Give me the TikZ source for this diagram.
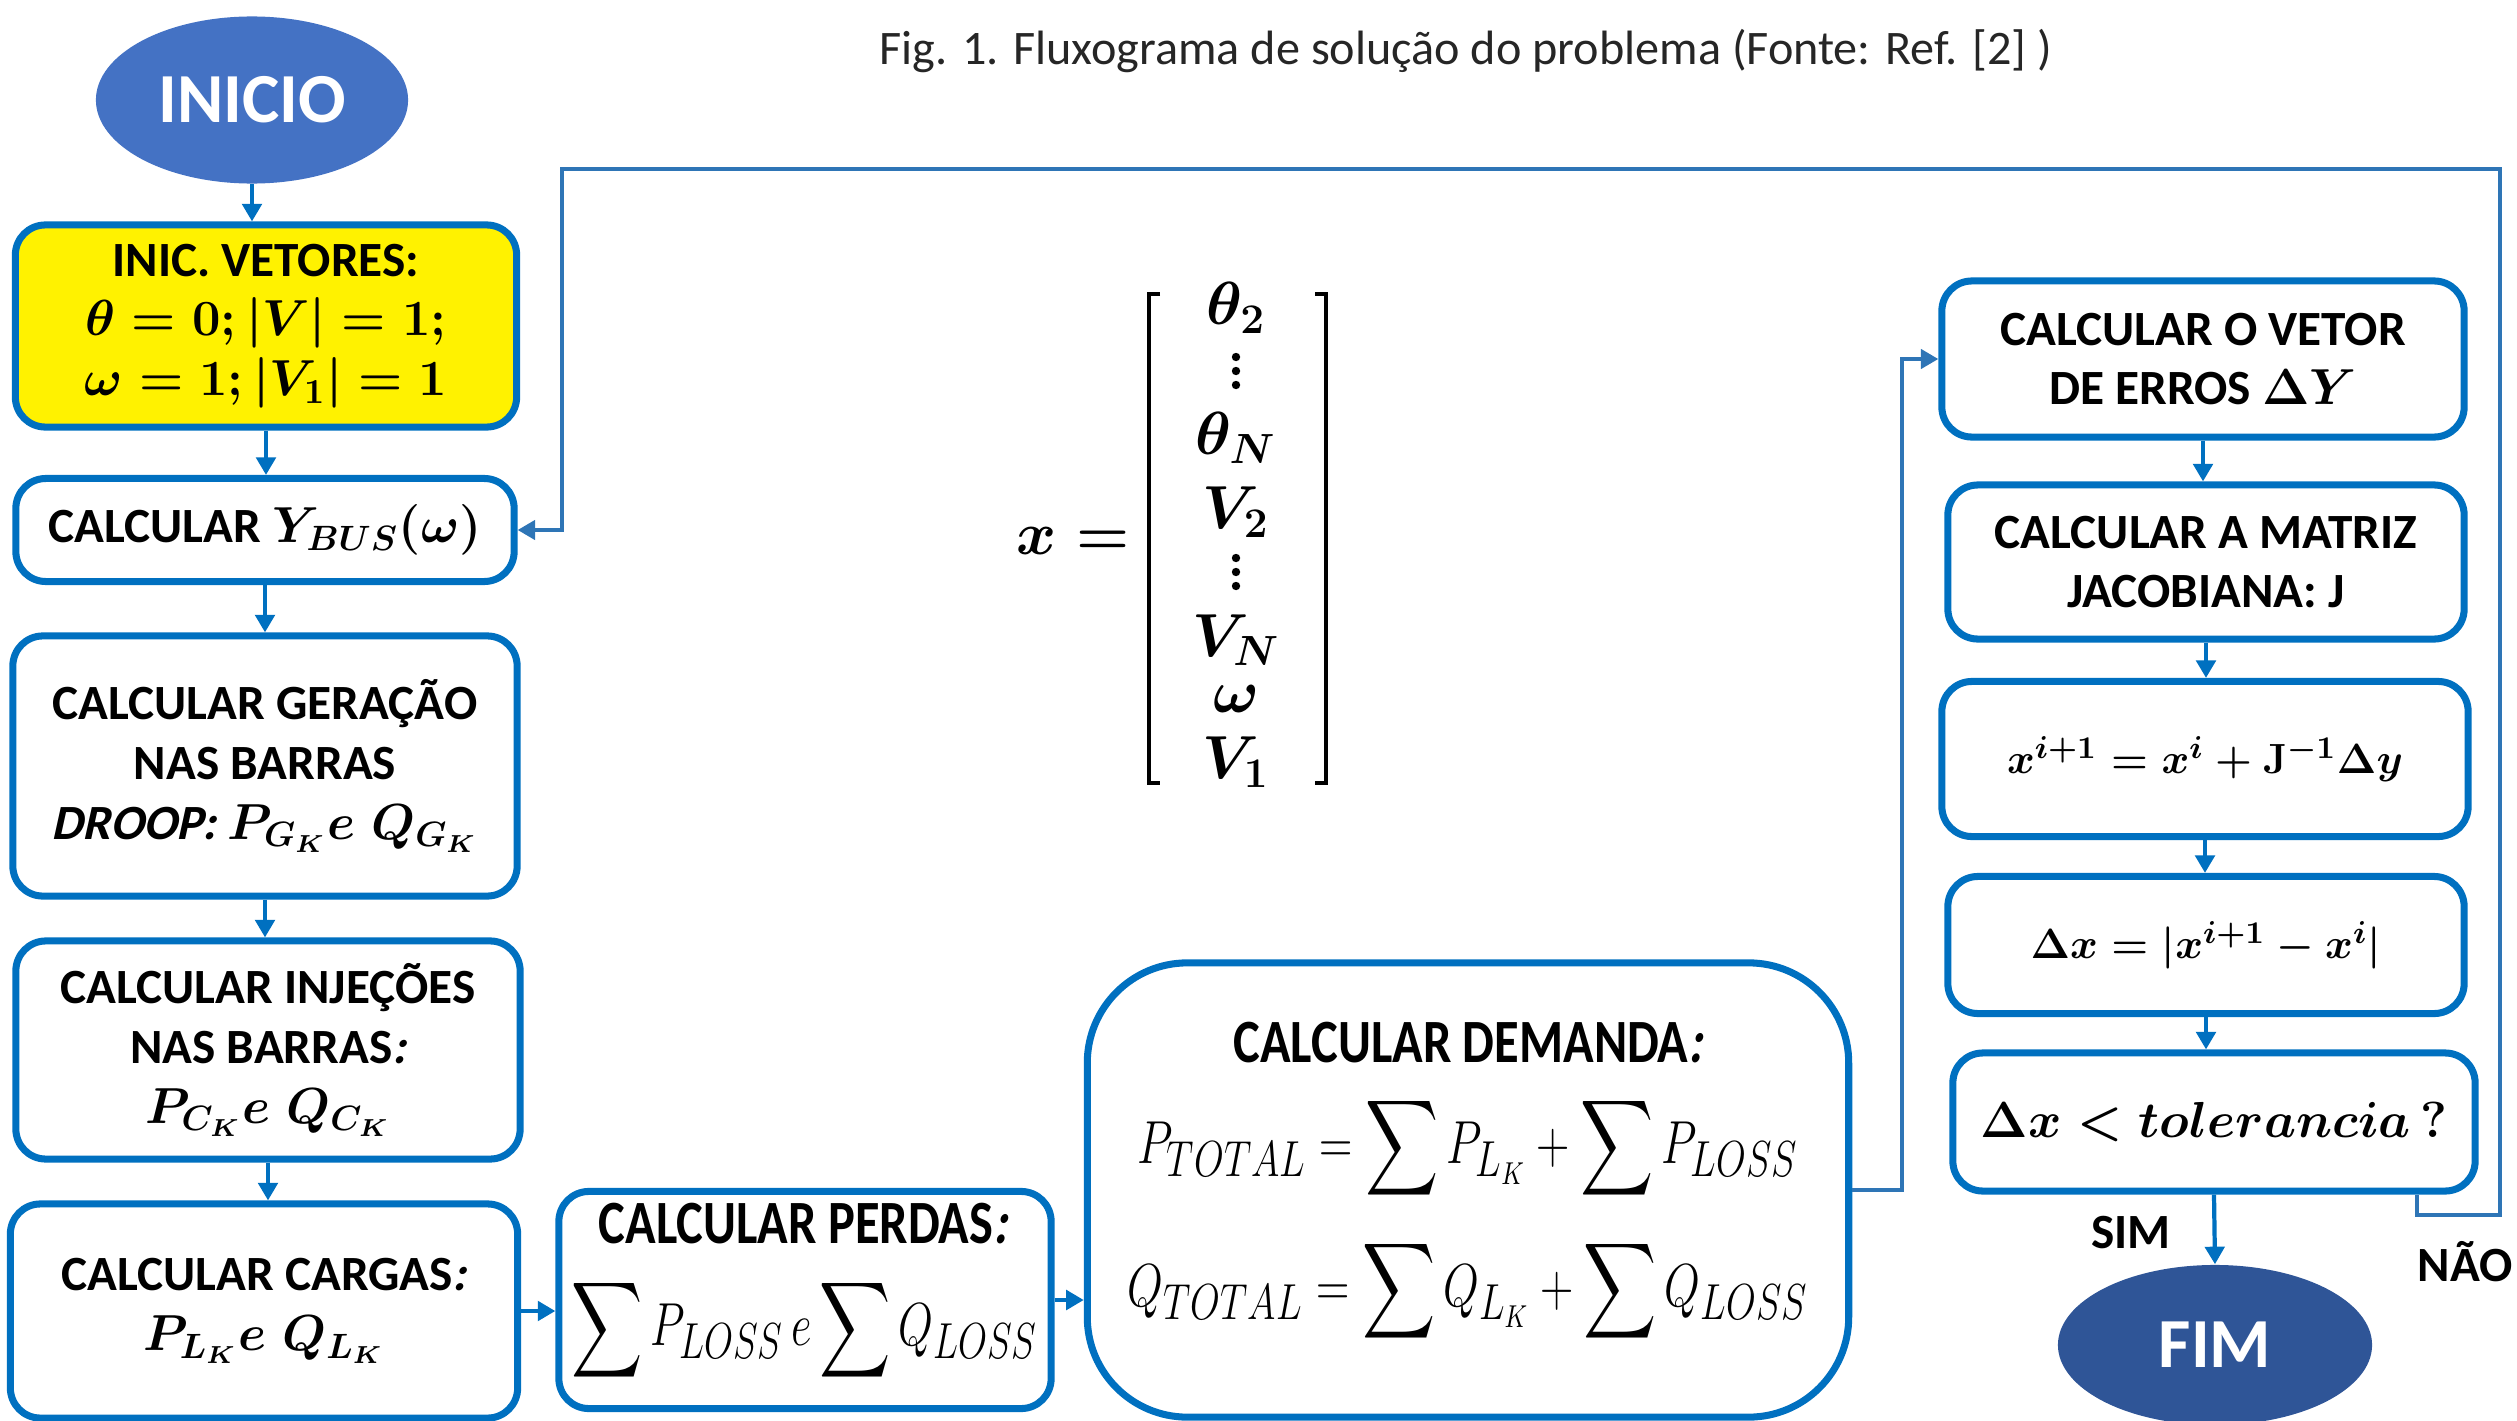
\documentclass[tikz,border=0pt]{standalone}
\usepackage{fontspec}
\setmainfont{Carlito}
\newfontfamily\slfont{Carlito}[FakeSlant=0.22]
\usepackage{amsmath,amssymb}
\usepackage{graphicx}
\usetikzlibrary{shapes.geometric,arrows.meta}
\definecolor{bx}{HTML}{0070C0}
\definecolor{fb}{HTML}{2E75B6}
\definecolor{ini}{HTML}{4472C4}
\definecolor{fimc}{HTML}{2F5597}
\definecolor{ttl}{HTML}{262626}
\newcommand\myCond[1]{\scalebox{0.82}[1]{#1}}
\newcommand\myCondM[1]{\scalebox{0.74}[1]{#1}}
\newcommand\bm[1]{{\fontsize{14}{17}\selectfont\boldmath$#1$}}
\newcommand\slt[1]{{\slfont\bfseries #1}}
\tikzset{
  box/.style={draw=bx, line width=2pt, rounded corners=0.3cm, fill=white, align=center, inner sep=0pt, font=\fontsize{14}{17}\selectfont\bfseries},
  mbox/.style={box, font=\fontsize{13.2}{18}\selectfont\boldmath},
  term/.style={ellipse, draw=none, text=white, inner sep=0pt, font=\fontsize{20}{24}\selectfont\bfseries},
  arr/.style={bx, line width=1.2pt, -{Triangle[width=5.5pt,length=5pt]}},
  fbarr/.style={fb, line width=1.1pt, -{Triangle[width=5.5pt,length=5pt]}},
  ctitle/.style={inner sep=0pt, font=\fontsize{17.5}{20}\selectfont\bfseries},
  cmath/.style={inner sep=0pt, font=\fontsize{19}{22}\selectfont},
  vecent/.style={inner sep=0pt, anchor=base, font=\fontsize{18}{20}\selectfont\boldmath},
  vdot/.style={inner sep=0pt, font=\fontsize{18}{20}\selectfont\boldmath},
  dotc/.style={fill=black, draw=none},
  lbl/.style={inner sep=0pt, font=\fontsize{14}{17}\selectfont\bfseries},
}
\begin{document}
\begin{tikzpicture}[x=0.01cm,y=-0.01cm]
\useasboundingbox (0,0) rectangle (2517,1421);
% title
\node[font=\fontsize{13.7}{16}\selectfont, text=ttl, inner sep=0pt] (title) at (1466,51) {Fig. 1. Fluxograma de solução do problema (Fonte: Ref. [2] )};
% terminals
\node[term, fill=ini, minimum width=3.12cm, minimum height=1.67cm] (ini) at (252,100) {INICIO};
\node[term, fill=fimc, minimum width=3.14cm, minimum height=1.60cm] (fim) at (2215,1345) {FIM};
% left column
\node[box, fill=yellow, minimum width=5.01cm, minimum height=2.02cm] (vet) at (266,326)
  {INIC. VETORES:\\ \bm{\theta=0;|V|=1;}\\ \bm{\omega=1;|V_1|=1}};
\node[box, minimum width=4.98cm, minimum height=1.03cm] (ybus) at (265,530)
  {CALCULAR \bm{Y_{BUS}(\omega)}};
\node[box, minimum width=5.04cm, minimum height=2.60cm] (gera) at (265,766)
  {CALCULAR GERAÇÃO\\ NAS BARRAS\\ \slt{DROOP:} \bm{P_{G_K}e\;Q_{G_K}}};
\node[box, minimum width=5.04cm, minimum height=2.18cm] (inje) at (268,1050)
  {CALCULAR INJEÇÕES\\ NAS BARRAS\slt{:}\\ \bm{P_{C_K}e\;Q_{C_K}}};
\node[box, minimum width=5.07cm, minimum height=2.14cm] (carg) at (264,1311)
  {CALCULAR CARGAS\slt{:}\\ \bm{P_{L_K}e\;Q_{L_K}}};
% perdas
\node[box, minimum width=4.92cm, minimum height=2.17cm] (perd) at (805,1300) {};
\node[ctitle] (perdt) at (803,1224) {\myCond{CALCULAR PERDAS\slt{:}}};
\node[cmath] (perdm) at (805,1330) {\myCondM{$\displaystyle\sum P_{LOSS}\,e\sum Q_{LOSS}$}};
% demanda
\node[box, rounded corners=1cm, minimum width=7.61cm, minimum height=4.54cm] (dem) at (1468,1190) {};
\node[ctitle] (demt) at (1468,1043) {\myCond{CALCULAR DEMANDA\slt{:}}};
\node[cmath] (deq1) at (1468,1148) {\scalebox{0.76}[1]{$\displaystyle P_{TOTAL}=\sum P_{L_K}+\sum P_{LOSS}$}};
\node[cmath] (deq2) at (1468,1291) {\scalebox{0.76}[1]{$\displaystyle Q_{TOTAL}=\sum Q_{L_K}+\sum Q_{LOSS}$}};
% right column
\node[box, minimum width=5.22cm, minimum height=1.56cm] (vetor) at (2203,359)
  {CALCULAR O VETOR\\ DE ERROS \bm{\Delta Y}};
\node[box, minimum width=5.16cm, minimum height=1.54cm] (matr) at (2206,562)
  {CALCULAR A MATRIZ\\ JACOBIANA: J};
\node[mbox, minimum width=5.26cm, minimum height=1.55cm] (xupd) at (2205,759)
  {$x^{i+1}=x^{i}+\mathbf{J}^{-1}\Delta y$};
\node[mbox, minimum width=5.16cm, minimum height=1.37cm] (dx) at (2206,945)
  {$\Delta x=\lvert x^{i+1}-x^{i}\rvert$};
\node[mbox, font=\fontsize{14}{18}\selectfont\boldmath, minimum width=5.22cm, minimum height=1.38cm] (tol) at (2214,1122)
  {$\Delta x<tolerancia\,\mathrm{?}$};
% vector x
\node[vdot] (xeq) at (1073,541) {$x=$};
\draw[line width=1.3pt] (1160,294) -- (1149,294) -- (1149,783) -- (1160,783);
\draw[line width=1.3pt] (1315,294) -- (1326,294) -- (1326,783) -- (1315,783);
\node[vecent] (e1) at (1236,324) {$\theta_2$};
\fill[dotc] (1236,357) circle (4.2) (1236,371) circle (4.2) (1236,385) circle (4.2);
\node[vecent] (e3) at (1236,454) {$\theta_N$};
\node[vecent] (e4) at (1236,528) {$V_2$};
\fill[dotc] (1236,558) circle (4.2) (1236,572) circle (4.2) (1236,586) circle (4.2);
\node[vecent] (e6) at (1236,656) {$V_N$};
\node[vecent] (e7) at (1236,712) {$\omega$};
\node[vecent] (e8) at (1236,778) {$V_1$};
% arrows left column
\draw[arr] (ini.south) -- (ini.south |- vet.north);
\draw[arr] (vet.south) -- (vet.south |- ybus.north);
\draw[arr] (ybus.south) -- (ybus.south |- gera.north);
\draw[arr] (gera.south) -- (gera.south |- inje.north);
\draw[arr] (inje.south) -- (inje.south |- carg.north);
\draw[arr] (carg.east) -- (carg.east -| perd.west);
\draw[arr] (perd.east) -- (perd.east -| dem.west);
\draw[fbarr] (dem.east) -- ++(50,0) |- (vetor.west);
% right column
\draw[arr] (vetor.south) -- (vetor.south |- matr.north);
\draw[arr] (matr.south) -- (matr.south |- xupd.north);
\draw[arr] (xupd.south) -- (xupd.south |- dx.north);
\draw[arr] (dx.south) -- (dx.south |- tol.north);
\draw[arr] (tol.south) -- (fim.north);
% NAO loop
\coordinate (n0) at (2417,1195);
\coordinate (nr) at (2500,1215);
\coordinate (nt) at (562,169);
\draw[fbarr] (n0) |- (nr) -- (nr |- nt) -- (nt) |- (ybus.east);
% labels
\node[lbl] (sim) at (2131,1233) {SIM};
\node[lbl] (nao) at (2465,1262) {NÃO};
\end{tikzpicture}
\end{document}
